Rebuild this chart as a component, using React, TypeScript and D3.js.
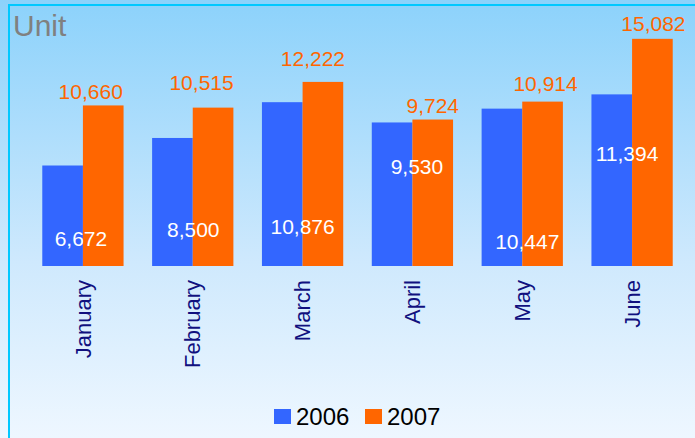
import React from "react";
import * as d3 from "d3";

const months = ["January", "February", "March", "April", "May", "June"];
const series2006 = [6672, 8500, 10876, 9530, 10447, 11394];
const series2007 = [10660, 10515, 12222, 9724, 10914, 15082];
const seriesNames = ["2006", "2007"];
const yTicksDomain = [0, 16000];

// label placement quirks of the original (layout only)
const inner2006At = [0.2, 0.23, 0.195, 0.64, 0.11, 0.61]; // fraction of bar height for baseline
const inner2006Dx = [-2, 0.5, 0, 4.5, 5, -5];
const top2007Gap = [6, 18, 16, 7, 11, 8];
const top2007Dx = [-12.5, -11.5, -10, 0, 3, 1];

const W = 695;
const H = 438;
const COLORS = ["#3366ff", "#ff6600"];
const FONT = "'Liberation Sans', Arial, sans-serif";
const fmt = d3.format(",");

export default function App() {
  const x = d3
    .scaleBand<string>()
    .domain(months)
    .range([28, 687])
    .paddingInner(0.26)
    .paddingOuter(0.13);
  const x1 = d3
    .scaleBand<string>()
    .domain(seriesNames)
    .range([0, x.bandwidth()]);
  const y = d3.scaleLinear().domain(yTicksDomain).range([266, 25]);

  return (
    <svg
      width={W}
      height={H}
      style={{ position: "absolute", left: 0, top: 0, fontFamily: FONT }}
    >
      <defs>
        <linearGradient id="bg" x1="0" y1="0" x2="0" y2="1">
          <stop offset="0" stopColor="#8cd2fb" />
          <stop offset="0.6" stopColor="#cfe9fd" />
          <stop offset="1" stopColor="#eef7ff" />
        </linearGradient>
      </defs>
      <rect x={0} y={0} width={W} height={H} fill="url(#bg)" />
      <line x1={8} y1={5} x2={W} y2={5} stroke="#00c8ff" strokeWidth={2} />
      <line x1={9} y1={4} x2={9} y2={H} stroke="#00c8ff" strokeWidth={2} />
      <text x={13} y={36} fontSize={30} fill="#808080">
        Unit
      </text>

      {months.map((m, i) => {
        const gx = x(m)!;
        const vals = [series2006[i], series2007[i]];
        const center = gx + x.bandwidth() / 2;
        const b2007x = gx + x1("2007")! + x1.bandwidth() / 2;
        const h2006 = y(0) - y(series2006[i]);
        return (
          <g key={m}>
            {vals.map((v, j) => (
              <rect
                key={j}
                x={gx + x1(seriesNames[j])!}
                y={y(v)}
                width={x1.bandwidth()}
                height={y(0) - y(v)}
                fill={COLORS[j]}
              />
            ))}
            <text
              x={center + inner2006Dx[i]}
              y={y(0) - h2006 * inner2006At[i]}
              textAnchor="middle"
              fontSize={21}
              fill="#ffffff"
            >
              {fmt(series2006[i])}
            </text>
            <text
              x={b2007x + top2007Dx[i]}
              y={y(series2007[i]) - top2007Gap[i]}
              textAnchor="middle"
              fontSize={21}
              fill="#ff6600"
            >
              {fmt(series2007[i])}
            </text>
            <text
              transform={`translate(${center},280) rotate(-90)`}
              textAnchor="end"
              dy="0.35em"
              fontSize={22}
              fill="#10107f"
            >
              {m}
            </text>
          </g>
        );
      })}

      {seriesNames.map((s, j) => (
        <g key={s} transform={`translate(${274 + j * 91},409)`}>
          <rect x={0} y={0} width={17} height={15} fill={COLORS[j]} />
          <text x={22} y={16} fontSize={24} fill="#000">
            {s}
          </text>
        </g>
      ))}
    </svg>
  );
}
